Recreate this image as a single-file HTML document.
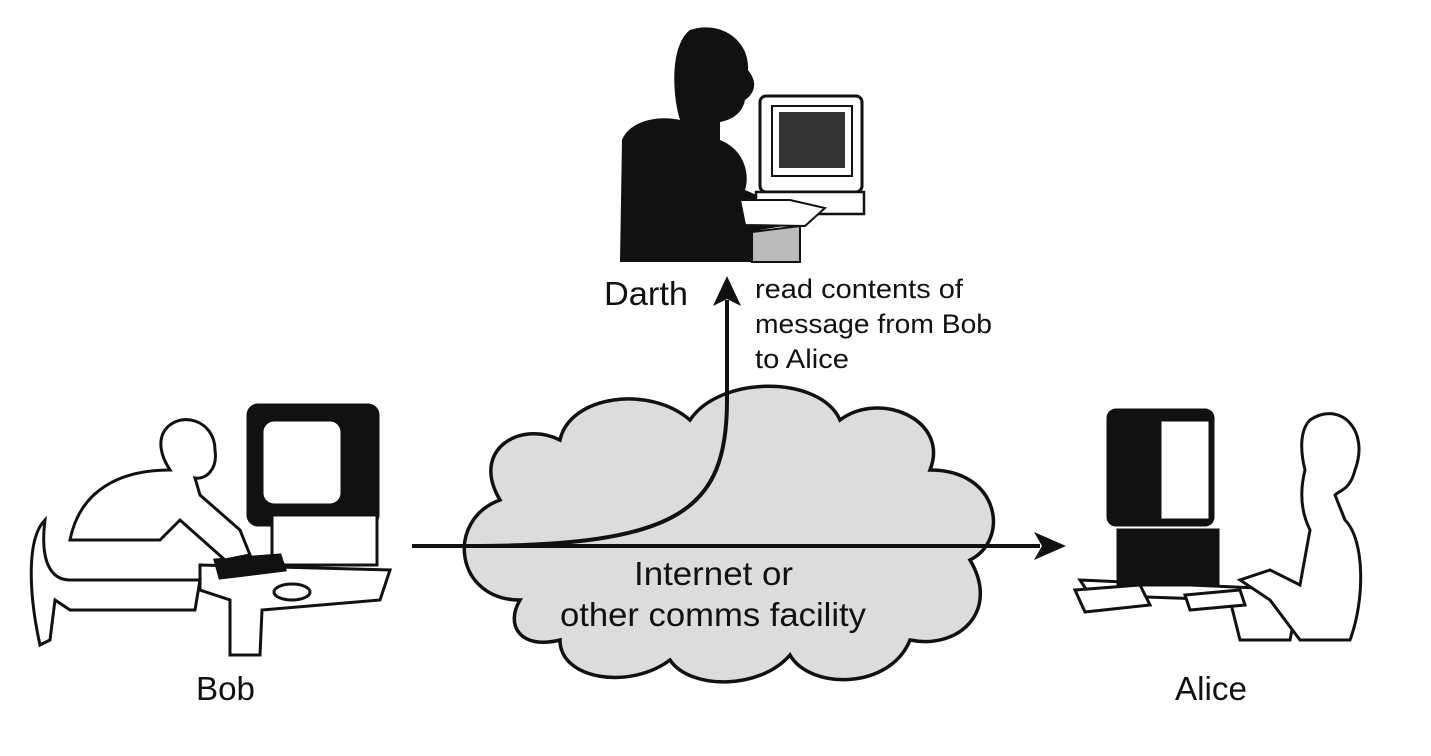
<!DOCTYPE html>
<html><head><meta charset="utf-8"><style>
html,body{margin:0;padding:0;background:#fff;}
svg{display:block;}
text{font-family:"Liberation Sans",sans-serif;fill:#111;}
</style></head><body>
<svg width="1431" height="756" viewBox="0 0 1431 756" xmlns="http://www.w3.org/2000/svg">

<!-- Cloud -->
<path d="M520,600 C455,600 445,520 500,500 C470,450 520,420 560,440 C570,395 650,385 690,420 C720,375 820,375 840,420 C880,390 950,420 930,470 C1000,470 1010,540 970,560 C1000,610 960,650 910,640 C890,690 810,690 790,655 C760,690 690,690 670,660 C630,690 560,680 560,640 C520,650 505,625 520,600 Z" fill="#dcdcdc" stroke="#111" stroke-width="3.5"/>

<!-- horizontal arrow -->
<line x1="412" y1="546" x2="1040" y2="546" stroke="#111" stroke-width="4"/>
<polygon points="1066,546 1034,532 1042,546 1034,560" fill="#111"/>
<!-- curved arrow -->
<path d="M470,546 C680,546 727,510 727,400 L727,300" fill="none" stroke="#111" stroke-width="4"/>
<polygon points="727,276 713,306 727,299 741,306" fill="#111"/>

<!-- Darth silhouette -->
<g fill="#111">
<path d="M690,30 C720,20 750,40 748,70 C760,85 752,95 745,100 C742,115 730,120 720,122 L720,140 C745,150 750,175 745,190 L780,205 L790,225 L760,230 L752,262 L620,262 L622,140 C630,120 660,115 680,120 C672,95 670,45 690,30 Z"/>
</g>
<rect x="760" y="96" width="102" height="96" rx="6" fill="#fff" stroke="#111" stroke-width="3"/>
<rect x="772" y="106" width="80" height="70" fill="#fff" stroke="#111" stroke-width="2"/>
<rect x="779" y="112" width="66" height="56" fill="#333"/>
<rect x="756" y="192" width="108" height="22" fill="#fff" stroke="#111" stroke-width="2.5"/>
<polygon points="752,232 800,226 800,262 752,262" fill="#bbb" stroke="#111" stroke-width="2"/>
<path d="M740,200 L790,200 L825,208 L805,226 L745,225 Z" fill="#fff" stroke="#111" stroke-width="2"/>

<!-- Bob -->
<g stroke="#111" stroke-width="3" fill="#fff">
<path d="M200,565 L390,570 L380,600 L262,610 L260,655 L230,655 L230,600 L200,590 Z"/>
<rect x="248" y="405" width="130" height="120" rx="10" fill="#111"/>
<rect x="262" y="420" width="80" height="85" rx="12"/>
<rect x="272" y="515" width="105" height="50"/>
<path d="M215,560 L280,555 L285,570 L220,578 Z" fill="#111"/>
<ellipse cx="292" cy="592" rx="18" ry="8"/>
<path d="M165,430 C180,410 215,420 215,450 C218,470 205,480 195,478 L200,495 L240,530 L250,555 L225,560 L180,520 L160,540 L70,540 C80,490 120,470 170,470 C160,455 158,440 165,430 Z"/>
<path d="M45,520 C40,560 50,580 70,580 L200,580 L195,610 L70,610 L55,600 L50,640 L40,645 C30,600 25,540 45,520 Z" fill="#fff"/>
</g>

<!-- Alice -->
<g stroke="#111" stroke-width="3" fill="#fff">
<path d="M1080,580 L1300,590 L1290,640 L1240,640 L1230,600 L1090,595 Z"/>
<rect x="1108" y="410" width="105" height="115" rx="8" fill="#111"/>
<rect x="1160" y="420" width="50" height="100" fill="#fff"/>
<rect x="1118" y="530" width="100" height="55" fill="#111"/>
<path d="M1075,590 L1140,585 L1150,605 L1085,612 Z"/>
<path d="M1185,595 L1240,590 L1245,605 L1190,610 Z"/>
<path d="M1310,420 C1340,400 1370,430 1355,470 C1350,490 1340,490 1335,495 L1345,520 C1365,540 1365,600 1350,640 L1300,640 L1270,600 L1240,580 L1270,570 L1300,585 L1310,530 C1300,510 1300,490 1305,470 C1300,450 1300,430 1310,420 Z"/>
</g>

<!-- Labels -->
<text x="604" y="305" font-size="33" textLength="84" lengthAdjust="spacingAndGlyphs">Darth</text>
<text x="755" y="298" font-size="27" textLength="208" lengthAdjust="spacingAndGlyphs">read contents of</text>
<text x="755" y="333" font-size="27" textLength="237" lengthAdjust="spacingAndGlyphs">message from Bob</text>
<text x="755" y="368" font-size="27" textLength="94" lengthAdjust="spacingAndGlyphs">to Alice</text>
<text x="634" y="585" font-size="33" textLength="159" lengthAdjust="spacingAndGlyphs">Internet or</text>
<text x="560" y="626" font-size="33" textLength="306" lengthAdjust="spacingAndGlyphs">other comms facility</text>
<text x="196" y="700" font-size="33" textLength="59" lengthAdjust="spacingAndGlyphs">Bob</text>
<text x="1175" y="700" font-size="33" textLength="72" lengthAdjust="spacingAndGlyphs">Alice</text>
</svg>
</body></html>
